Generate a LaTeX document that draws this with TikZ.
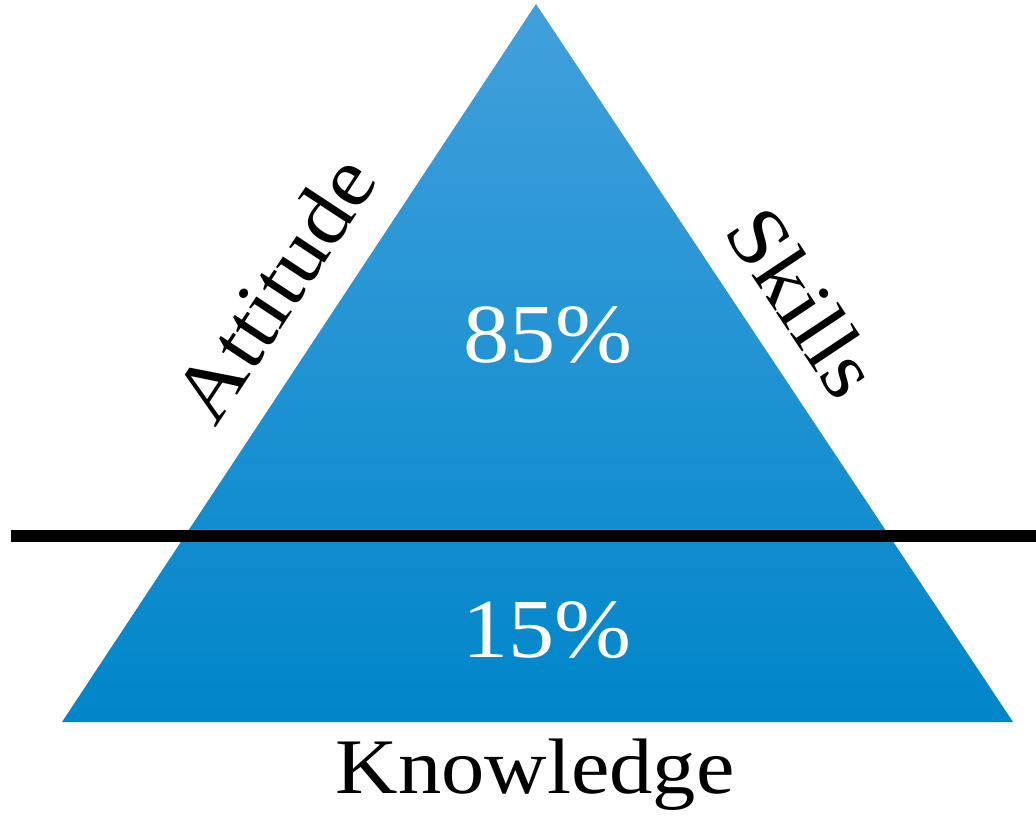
\documentclass[tikz,border=0pt]{standalone}
\usepackage{fontspec}
\setmainfont[FakeStretch=1.1]{Liberation Serif}
\definecolor{triTop}{RGB}{66,160,220}
\definecolor{triMid}{RGB}{8,150,218}
\definecolor{triBot}{RGB}{0,134,202}
\tikzset{
  side/.style={inner sep=0.75pt,anchor=base,font=\fontsize{62}{70}\selectfont},
  pct/.style={inner sep=0.75pt,anchor=base,text=white,font=\fontsize{63}{70}\selectfont},
  divider/.style={line width=9pt}
}
\begin{document}
\begin{tikzpicture}[x=0.75pt,y=0.75pt,yscale=-1]
\useasboundingbox (0,0) rectangle (1036,825);

%Shape: Triangle
\coordinate (apex) at (536,4);
\coordinate (baseL) at (62,722);
\coordinate (baseR) at (1013,722);
\shade [top color=triTop,middle color=triMid,bottom color=triBot] (apex) -- (baseR) -- (baseL) -- cycle;

%Straight Lines
\coordinate (lineL) at (11,536);
\coordinate (lineR) at (1036,536);
\draw [divider] (lineL) -- (lineR);

% Text Node
\node [pct] (upper) at (548,362) {85\%};
% Text Node
\node [pct] (lower) at (547,657) {15\%};
% Text Node
\node [side,rotate=56.6] (attitude) at (298,304) {Attitude};
% Text Node
\node [side,rotate=-56.4] (skills) at (780,318) {Skills};
% Text Node
\node [side,font=\fontsize{59}{66}\selectfont] (knowledge) at (535,793) {Knowledge};

\end{tikzpicture}
\end{document}
